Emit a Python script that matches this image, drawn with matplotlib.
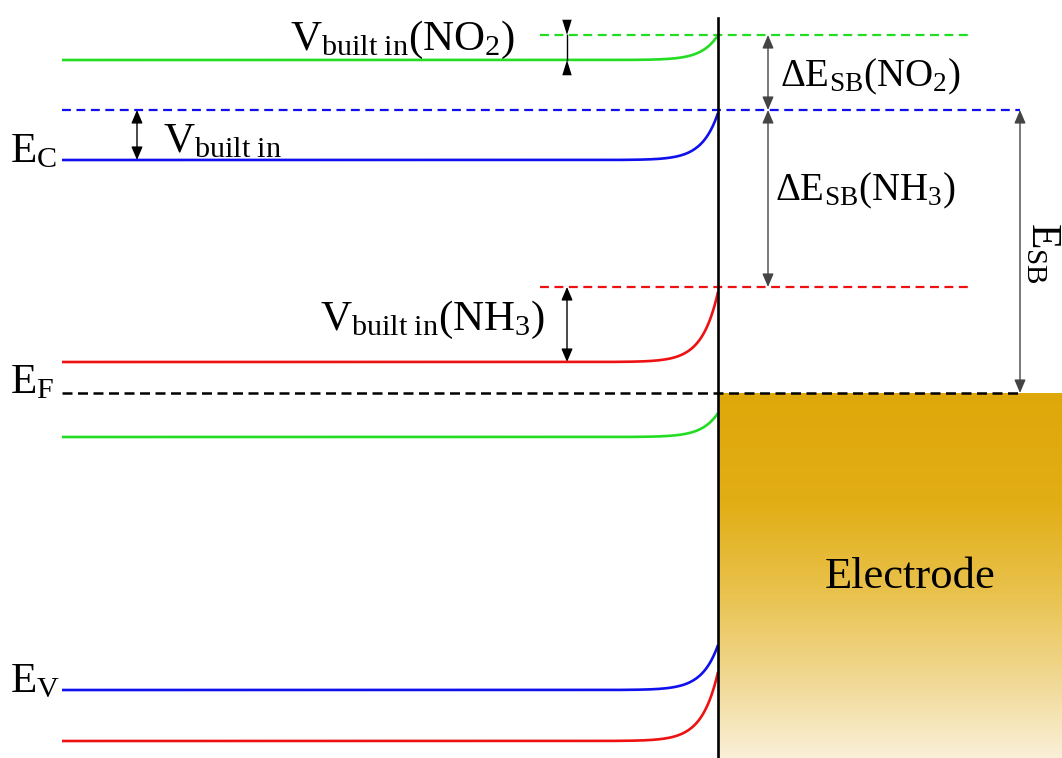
import numpy as np
import matplotlib
matplotlib.use('Agg')
import matplotlib.pyplot as plt
from matplotlib.patches import FancyArrowPatch
from matplotlib.colors import LinearSegmentedColormap

plt.rcParams['font.family'] = ['Liberation Serif', 'DejaVu Serif']
plt.rcParams['mathtext.fontset'] = 'custom'
plt.rcParams['mathtext.rm'] = 'Liberation Serif'
plt.rcParams['mathtext.it'] = 'Liberation Serif:italic'

# band levels (energy drawn downward), one entry per atmosphere
gases = ['NO2', 'air', 'NH3']
band_colors = ['#22dd22', '#1010ee', '#ee1111']
ec_bulk = [60, 160, 362]
ec_surface = [35, 113, 292]
ev_bulk = [437, 690, 741]
ev_surface = [413, 645, 672]
barrier_top = [35, 110, 287]
e_fermi = 393

x_bulk = 62
x_contact = 718
x_end = 1062
bend_len = 16.0


def bend(bulk, surface):
    x = np.linspace(x_bulk, x_contact, 400)
    y = bulk + (surface - bulk) * np.exp(-(x_contact - x) / bend_len)
    return x, y


fig = plt.figure(figsize=(10.62, 7.58), dpi=100)
ax = fig.add_axes([0, 0, 1, 1])
ax.set_xlim(0, x_end)
ax.set_ylim(758, 0)
ax.axis('off')

# electrode block with gold gradient
gold = LinearSegmentedColormap.from_list('gold', [
    (0.0, '#dfa80a'), (0.3, '#e2ae16'), (0.55, '#e9c24e'),
    (0.8, '#f1da98'), (1.0, '#faf0d8')])
grad = np.linspace(0, 1, 256).reshape(-1, 1)
ax.imshow(grad, cmap=gold, aspect='auto',
          extent=[x_contact, x_end, 758, e_fermi], zorder=0)

# conduction and valence bands with bending at the contact
for i in range(len(gases)):
    x, y = bend(ec_bulk[i], ec_surface[i])
    ax.plot(x, y, color=band_colors[i], lw=1.9, solid_capstyle='butt')
    x, y = bend(ev_bulk[i], ev_surface[i])
    ax.plot(x, y, color=band_colors[i], lw=1.9, solid_capstyle='butt')

# barrier heights
ax.plot([540, 970], [barrier_top[0]] * 2, color=band_colors[0], lw=1.6, ls=(0, (4, 2.5)))
ax.plot([x_bulk, 1020], [barrier_top[1]] * 2, color=band_colors[1], lw=1.6, ls=(0, (4, 2.5)))
ax.plot([540, 970], [barrier_top[2]] * 2, color=band_colors[2], lw=1.6, ls=(0, (4, 2.5)))
ax.plot([x_bulk, 1020], [e_fermi] * 2, color='black', lw=1.8, ls=(0, (4, 2.2)))

# interface
ax.plot([x_contact, x_contact], [18, 758], color='black', lw=1.9)


def double_arrow(x, y0, y1, color='black'):
    arr = FancyArrowPatch((x, y0), (x, y1),
                          arrowstyle='<|-|>,head_length=0.4,head_width=0.17',
                          mutation_scale=20, shrinkA=0, shrinkB=0,
                          color=color, lw=1.0)
    ax.add_patch(arr)


def head(x, y_from, y_to):
    arr = FancyArrowPatch((x, y_from), (x, y_to),
                          arrowstyle='-|>,head_length=0.55,head_width=0.17',
                          mutation_scale=20, shrinkA=0, shrinkB=0,
                          color='black', lw=0)
    ax.add_patch(arr)


# built-in potentials
ax.plot([567, 567], [barrier_top[0], ec_bulk[0]], color='black', lw=1.0)
head(567, 21, barrier_top[0])
head(567, 74, ec_bulk[0])
double_arrow(137, barrier_top[1], ec_bulk[1])
double_arrow(567, barrier_top[2], ec_bulk[2])

# Schottky barrier changes
double_arrow(768, barrier_top[0], barrier_top[1], color='#444444')
double_arrow(768, barrier_top[1], barrier_top[2], color='#444444')
double_arrow(1020, barrier_top[1], e_fermi, color='#444444')

fs = 31
ax.text(290, 50, r'$\mathrm{V_{built\ in}(NO_2)}$', fontsize=fs, va='baseline')
ax.text(163, 152, r'$\mathrm{V_{built\ in}}$', fontsize=fs, va='baseline')
ax.text(320, 330, r'$\mathrm{V_{built\ in}(NH_3)}$', fontsize=fs, va='baseline')
ax.text(780, 86, r'$\mathrm{\Delta E_{SB}(NO_2)}$', fontsize=28, va='baseline')
ax.text(775, 200, r'$\mathrm{\Delta E_{SB}(NH_3)}$', fontsize=28, va='baseline')
ax.text(1032, 222, r'$\mathrm{E_{SB}}$', fontsize=30, rotation=-90,
        rotation_mode='anchor', ha='left', va='baseline')

ax.text(10, 162, r'$\mathrm{E_C}$', fontsize=fs, va='baseline')
ax.text(10, 393, r'$\mathrm{E_F}$', fontsize=fs, va='baseline')
ax.text(10, 692, r'$\mathrm{E_V}$', fontsize=fs, va='baseline')
ax.text(910, 577, 'Electrode', fontsize=32, ha='center', va='center')

fig.savefig('out.png', dpi=100)
